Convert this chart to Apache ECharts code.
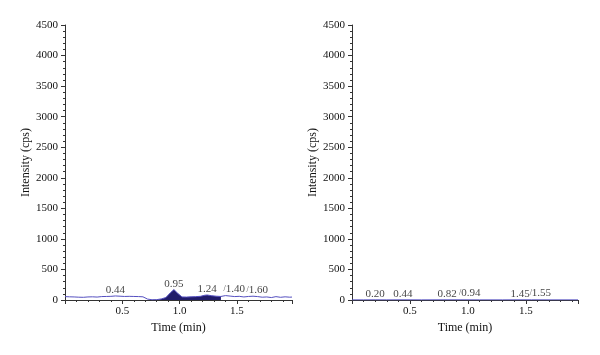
<!DOCTYPE html>
<html>
<head>
<meta charset="utf-8">
<script src="https://cdn.jsdelivr.net/npm/echarts@6/dist/echarts.min.js"></script>
<style>html,body{margin:0;padding:0;background:#fff}#c{width:600px;height:355px}</style>
</head>
<body>
<div id="c"></div>
<script>
// Left chromatogram (time in min, intensity in cps)
var leftTimes = [0, 0.04, 0.08, 0.12, 0.16, 0.20, 0.24, 0.28, 0.32, 0.36, 0.40, 0.44, 0.48, 0.52, 0.56, 0.60, 0.64, 0.68, 0.72, 0.76, 0.80, 0.84, 0.88, 0.92, 0.95, 0.98, 1.02, 1.06, 1.10, 1.14, 1.18, 1.22, 1.24, 1.28, 1.32, 1.36, 1.40, 1.44, 1.48, 1.52, 1.56, 1.60, 1.64, 1.68, 1.72, 1.76, 1.80, 1.84, 1.88, 1.92, 1.96, 1.98];
var leftValues = [55, 52, 50, 46, 44, 50, 52, 48, 56, 58, 60, 66, 62, 58, 60, 58, 56, 52, 15, 4, 6, 18, 40, 120, 170, 115, 50, 48, 52, 55, 60, 78, 82, 70, 62, 58, 72, 64, 56, 60, 50, 58, 62, 56, 46, 50, 40, 55, 44, 52, 46, 48];
var leftFillStart = 0.76, leftFillEnd = 1.36;
var leftPeakTimes = [0.44, 0.95, 1.24, 1.40, 1.60];
var leftPeakValues = [66, 170, 82, 72, 58];
var leftPeakSlash = [false, false, false, true, true];

// Right chromatogram
var rightTimes = [0, 0.10, 0.20, 0.30, 0.44, 0.60, 0.82, 0.94, 1.10, 1.30, 1.45, 1.55, 1.70, 1.95];
var rightValues = [2, 2, 3, 2, 3, 2, 3, 3, 2, 2, 3, 3, 2, 2];
var rightPeakTimes = [0.20, 0.44, 0.82, 0.94, 1.45, 1.55];
var rightPeakValues = [3, 3, 3, 3, 3, 3];
var rightPeakSlash = [false, false, false, true, false, true];

var yTicks = [0, 500, 1000, 1500, 2000, 2500, 3000, 3500, 4000, 4500];
var xTickLabels = [0.5, 1.0, 1.5];

var FONT = 'Liberation Serif';
var TXT = '#111';
var lineColor = '#5550c0';
var fillColor = '#211c6a';

function pairs(t, v) { return t.map(function (x, i) { return [x, v[i]]; }); }

function peakData(t, v, slash) {
  return t.map(function (x, i) {
    var item = { value: [x, v[i]], name: x.toFixed(2) };
    if (slash[i]) {
      item.label = {
        position: [-2, -12], align: 'left', verticalAlign: 'top',
        formatter: '{s|/}{t|' + x.toFixed(2) + '}'
      };
    }
    return item;
  });
}

function xAxis(idx, max) {
  return {
    type: 'value', gridIndex: idx, min: 0, max: max, interval: 0.5,
    name: 'Time (min)', nameLocation: 'middle', nameGap: 22,
    nameTextStyle: { fontFamily: FONT, fontSize: 12, color: TXT },
    axisLine: { show: true, onZero: false, lineStyle: { color: '#333', width: 1 } },
    axisTick: { show: true, length: 4, lineStyle: { color: '#333' } },
    minorTick: { show: true, splitNumber: 5, length: 2, lineStyle: { color: '#333' } },
    splitLine: { show: false },
    axisLabel: {
      fontFamily: FONT, fontSize: 11, color: TXT, margin: 6,
      showMinLabel: false, showMaxLabel: false,
      formatter: function (v) {
        for (var i = 0; i < xTickLabels.length; i++) if (Math.abs(v - xTickLabels[i]) < 1e-6) return xTickLabels[i].toFixed(1);
        return '';
      }
    }
  };
}

function yAxis(idx) {
  return {
    type: 'value', gridIndex: idx, min: yTicks[0], max: yTicks[yTicks.length - 1], interval: 500,
    name: 'Intensity (cps)', nameLocation: 'middle', nameGap: 27,
    nameTextStyle: { fontFamily: FONT, fontSize: 12, color: TXT },
    axisLine: { show: true, lineStyle: { color: '#333', width: 1 } },
    axisTick: { show: true, length: 4, lineStyle: { color: '#333' } },
    minorTick: { show: true, splitNumber: 5, length: 2, lineStyle: { color: '#333' } },
    splitLine: { show: false },
    axisLabel: {
      fontFamily: FONT, fontSize: 11, color: TXT, margin: 7,
      formatter: function (v) { return String(v); }
    }
  };
}

var peakLabel = {
  show: true, position: 'top', distance: 0,
  fontFamily: FONT, fontSize: 11, color: TXT,
  formatter: '{b}',
  rich: { s: { fontFamily: FONT, fontSize: 8, color: TXT }, t: { fontFamily: FONT, fontSize: 11, color: TXT } }
};

var leftPairs = pairs(leftTimes, leftValues);
var leftFill = leftPairs.filter(function (p) { return p[0] >= leftFillStart && p[0] <= leftFillEnd; });

var chart = echarts.init(document.getElementById('c'), null, { renderer: 'canvas' });
chart.setOption({
  animation: false,
  backgroundColor: '#fff',
  grid: [
    { left: 65, top: 25, width: 227, height: 275 },
    { left: 352, top: 25, width: 226, height: 275 }
  ],
  xAxis: [xAxis(0, 1.98), xAxis(1, 1.95)],
  yAxis: [yAxis(0), yAxis(1)],
  series: [
    {
      type: 'line', xAxisIndex: 0, yAxisIndex: 0, data: leftFill, symbol: 'none',
      lineStyle: { width: 0 }, areaStyle: { color: fillColor, opacity: 1 }, z: 1
    },
    {
      type: 'line', xAxisIndex: 0, yAxisIndex: 0, data: leftPairs, symbol: 'none',
      lineStyle: { color: lineColor, width: 1 }, z: 2
    },
    {
      type: 'scatter', xAxisIndex: 0, yAxisIndex: 0, symbolSize: 0,
      data: peakData(leftPeakTimes, leftPeakValues, leftPeakSlash), label: peakLabel, z: 3
    },
    {
      type: 'line', xAxisIndex: 1, yAxisIndex: 1, data: pairs(rightTimes, rightValues), symbol: 'none',
      lineStyle: { color: lineColor, width: 1 }, z: 2
    },
    {
      type: 'scatter', xAxisIndex: 1, yAxisIndex: 1, symbolSize: 0,
      data: peakData(rightPeakTimes, rightPeakValues, rightPeakSlash), label: peakLabel, z: 3
    }
  ]
});
</script>
</body>
</html>
